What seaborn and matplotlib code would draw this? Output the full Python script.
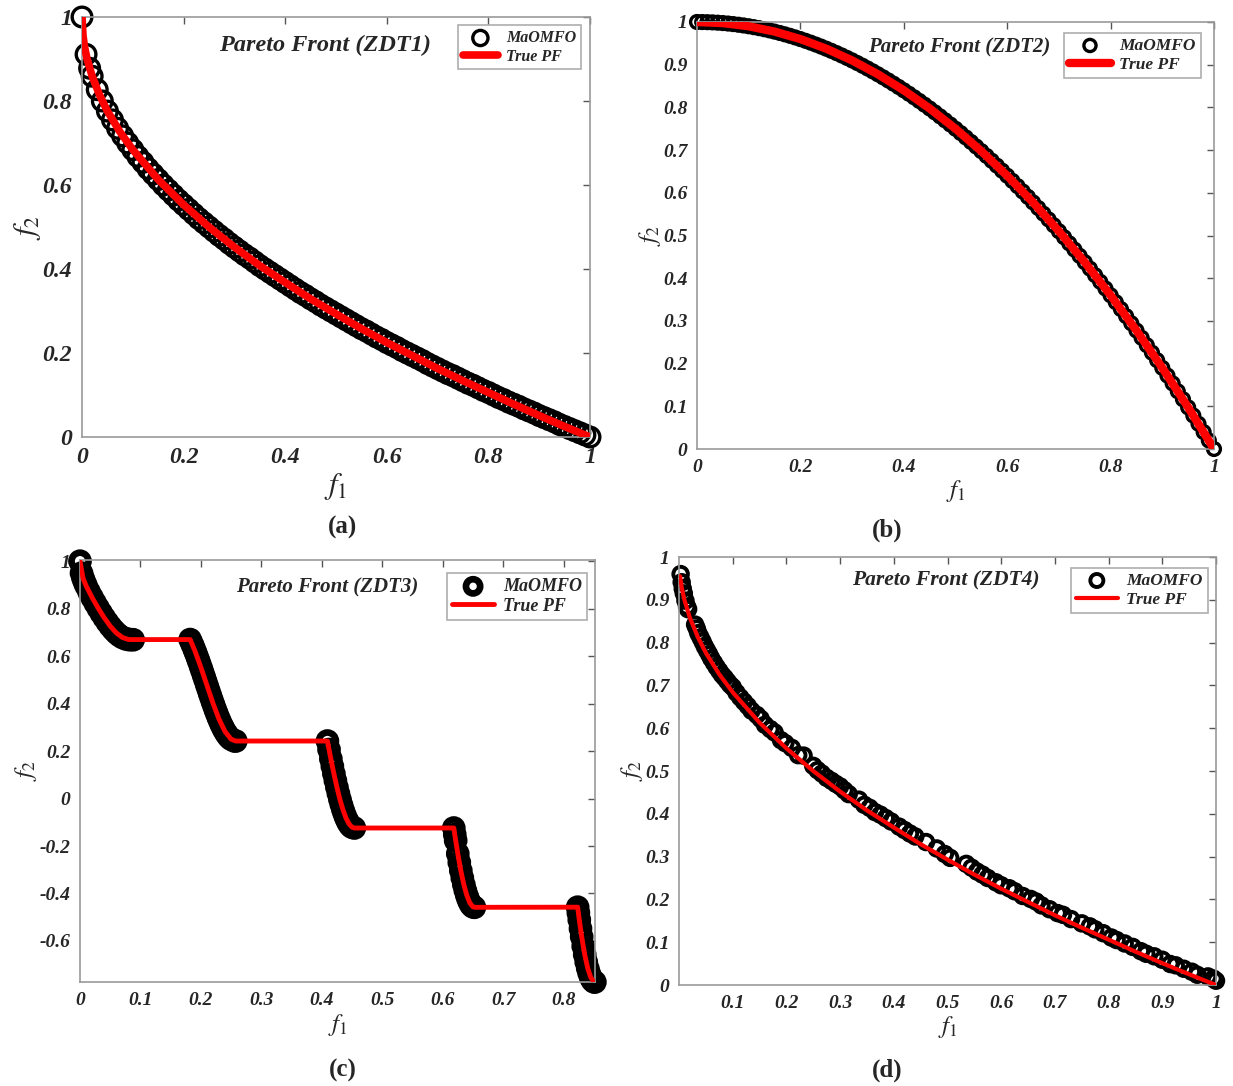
import matplotlib
matplotlib.use("Agg")
import matplotlib.pyplot as plt
import seaborn as sns
from matplotlib.ticker import FixedLocator, FixedFormatter

# ---------------- data ----------------
# ZDT1 (MaOMFO solutions)
zdt1_f1 = [0, 0.008, 0.015, 0.02, 0.03, 0.04, 0.05, 0.06, 0.07, 0.08, 0.09, 0.10, 0.11, 0.12, 0.13,
           0.14, 0.15, 0.16, 0.17, 0.18, 0.19, 0.20, 0.21, 0.22, 0.23, 0.24, 0.25, 0.26, 0.27, 0.28,
           0.29, 0.30, 0.31, 0.32, 0.33, 0.34, 0.35, 0.36, 0.37, 0.38, 0.39, 0.40, 0.41, 0.42, 0.43,
           0.44, 0.45, 0.46, 0.47, 0.48, 0.49, 0.50, 0.51, 0.52, 0.53, 0.54, 0.55, 0.56, 0.57, 0.58,
           0.59, 0.60, 0.61, 0.62, 0.63, 0.64, 0.65, 0.66, 0.67, 0.68, 0.69, 0.70, 0.71, 0.72, 0.73,
           0.74, 0.75, 0.76, 0.77, 0.78, 0.79, 0.80, 0.81, 0.82, 0.83, 0.84, 0.85, 0.86, 0.87, 0.88,
           0.89, 0.90, 0.91, 0.92, 0.93, 0.94, 0.95, 0.96, 0.97, 0.98, 0.99, 1.00]
zdt1_f2 = [1.0, 0.911, 0.878, 0.859, 0.827, 0.800, 0.776, 0.755, 0.735, 0.717, 0.700, 0.684, 0.668,
           0.654, 0.639, 0.626, 0.613, 0.600, 0.588, 0.576, 0.564, 0.553, 0.542, 0.531, 0.520, 0.510,
           0.500, 0.490, 0.480, 0.471, 0.461, 0.452, 0.443, 0.434, 0.426, 0.417, 0.408, 0.400, 0.392,
           0.384, 0.376, 0.368, 0.360, 0.352, 0.344, 0.337, 0.329, 0.322, 0.314, 0.307, 0.300, 0.293,
           0.286, 0.279, 0.272, 0.265, 0.258, 0.252, 0.245, 0.238, 0.232, 0.225, 0.219, 0.213, 0.206,
           0.200, 0.194, 0.188, 0.182, 0.175, 0.169, 0.163, 0.157, 0.151, 0.146, 0.140, 0.134, 0.128,
           0.123, 0.117, 0.111, 0.106, 0.100, 0.094, 0.089, 0.083, 0.078, 0.073, 0.067, 0.062, 0.057,
           0.051, 0.046, 0.041, 0.036, 0.030, 0.025, 0.020, 0.015, 0.010, 0.005, 0.000]
# ZDT1 (true Pareto front)
pf1_f1 = [0, 0.002, 0.005, 0.01, 0.02, 0.035, 0.05, 0.075, 0.1, 0.15, 0.2, 0.25, 0.3, 0.35, 0.4,
          0.45, 0.5, 0.55, 0.6, 0.65, 0.7, 0.75, 0.8, 0.85, 0.9, 0.95, 1.0]
pf1_f2 = [1.0, 0.955, 0.929, 0.900, 0.859, 0.813, 0.776, 0.726, 0.684, 0.613, 0.553, 0.500, 0.452,
          0.408, 0.368, 0.329, 0.293, 0.258, 0.225, 0.194, 0.163, 0.134, 0.106, 0.078, 0.051, 0.025, 0.0]

# ZDT2
zdt2_f1 = [0, 0.01, 0.02, 0.03, 0.04, 0.05, 0.06, 0.07, 0.08, 0.09, 0.10, 0.11, 0.12, 0.13, 0.14,
           0.15, 0.16, 0.17, 0.18, 0.19, 0.20, 0.21, 0.22, 0.23, 0.24, 0.25, 0.26, 0.27, 0.28, 0.29,
           0.30, 0.31, 0.32, 0.33, 0.34, 0.35, 0.36, 0.37, 0.38, 0.39, 0.40, 0.41, 0.42, 0.43, 0.44,
           0.45, 0.46, 0.47, 0.48, 0.49, 0.50, 0.51, 0.52, 0.53, 0.54, 0.55, 0.56, 0.57, 0.58, 0.59,
           0.60, 0.61, 0.62, 0.63, 0.64, 0.65, 0.66, 0.67, 0.68, 0.69, 0.70, 0.71, 0.72, 0.73, 0.74,
           0.75, 0.76, 0.77, 0.78, 0.79, 0.80, 0.81, 0.82, 0.83, 0.84, 0.85, 0.86, 0.87, 0.88, 0.89,
           0.90, 0.91, 0.92, 0.93, 0.94, 0.95, 0.96, 0.97, 0.98, 0.99, 1.00]
zdt2_f2 = [1.0, 0.9999, 0.9996, 0.9991, 0.9984, 0.9975, 0.9964, 0.9951, 0.9936, 0.9919, 0.99, 0.9879,
           0.9856, 0.9831, 0.9804, 0.9775, 0.9744, 0.9711, 0.9676, 0.9639, 0.96, 0.9559, 0.9516,
           0.9471, 0.9424, 0.9375, 0.9324, 0.9271, 0.9216, 0.9159, 0.91, 0.9039, 0.8976, 0.8911,
           0.8844, 0.8775, 0.8704, 0.8631, 0.8556, 0.8479, 0.84, 0.8319, 0.8236, 0.8151, 0.8064,
           0.7975, 0.7884, 0.7791, 0.7696, 0.7599, 0.75, 0.7399, 0.7296, 0.7191, 0.7084, 0.6975,
           0.6864, 0.6751, 0.6636, 0.6519, 0.64, 0.6279, 0.6156, 0.6031, 0.5904, 0.5775, 0.5644,
           0.5511, 0.5376, 0.5239, 0.51, 0.4959, 0.4816, 0.4671, 0.4524, 0.4375, 0.4224, 0.4071,
           0.3916, 0.3759, 0.36, 0.3439, 0.3276, 0.3111, 0.2944, 0.2775, 0.2604, 0.2431, 0.2256,
           0.2079, 0.19, 0.1719, 0.1536, 0.1351, 0.1164, 0.0975, 0.0784, 0.0591, 0.0396, 0.0199, 0.0]
pf2_f1 = [0, 0.05, 0.1, 0.15, 0.2, 0.25, 0.3, 0.35, 0.4, 0.45, 0.5, 0.55, 0.6, 0.65, 0.7, 0.75, 0.8,
          0.85, 0.9, 0.95, 1.0]
pf2_f2 = [1.0, 0.9975, 0.99, 0.9775, 0.96, 0.9375, 0.91, 0.8775, 0.84, 0.7975, 0.75, 0.6975, 0.64,
          0.5775, 0.51, 0.4375, 0.36, 0.2775, 0.19, 0.0975, 0.0]

# ZDT3
zdt3_f1 = [0, 0.0025, 0.005, 0.0075, 0.01, 0.015, 0.02, 0.025, 0.03, 0.035, 0.04, 0.045, 0.05, 0.055,
           0.06, 0.065, 0.07, 0.075, 0.08, 0.083, 0.088,
           0.1822, 0.185, 0.1875, 0.19, 0.1925, 0.195, 0.1975, 0.20, 0.2025, 0.205, 0.2075, 0.21,
           0.2125, 0.215, 0.2175, 0.22, 0.2225, 0.225, 0.2275, 0.23, 0.2325, 0.235, 0.2375, 0.24,
           0.2425, 0.245, 0.2475, 0.25, 0.255, 0.2578,
           0.4093, 0.412, 0.415, 0.4175, 0.42, 0.4225, 0.425, 0.4275, 0.43, 0.4325, 0.435, 0.4375,
           0.44, 0.4425, 0.445, 0.4475, 0.45, 0.4539,
           0.6184, 0.62, 0.6215, 0.625, 0.6275, 0.63, 0.6325, 0.635, 0.6375, 0.64, 0.6425, 0.645,
           0.6475, 0.65, 0.6525,
           0.8233, 0.8245, 0.826, 0.828, 0.83, 0.8325, 0.835, 0.8375, 0.84, 0.8425, 0.845, 0.8475,
           0.85, 0.8518]
zdt3_f2 = [1.0, 0.9498, 0.9285, 0.9117, 0.8969, 0.8707, 0.8468, 0.8242, 0.8025, 0.7817, 0.762, 0.7435,
           0.7264, 0.7112, 0.698, 0.6871, 0.6788, 0.6731, 0.6702, 0.6696, 0.6690,
           0.6698, 0.6539, 0.6388, 0.6228, 0.6062, 0.5889, 0.5711, 0.5528, 0.5341, 0.5151, 0.4961,
           0.4768, 0.4577, 0.4387, 0.42, 0.4017, 0.3838, 0.3666, 0.35, 0.3343, 0.3196, 0.3058,
           0.2933, 0.2819, 0.2718, 0.263, 0.2558, 0.25, 0.2431, 0.2423,
           0.2423, 0.2065, 0.1674, 0.1358, 0.105, 0.0756, 0.0476, 0.0211, -0.0036, -0.0263, -0.0471,
           -0.0656, -0.0817, -0.0955, -0.1066, -0.1151, -0.1208, -0.1242,
           -0.1242, -0.1518, -0.177, -0.2325, -0.2693, -0.3034, -0.3346, -0.3627, -0.3874, -0.4086,
           -0.4264, -0.4402, -0.4502, -0.4562, -0.4583,
           -0.4578, -0.4819, -0.511, -0.5479, -0.5825, -0.6222, -0.6578, -0.689, -0.7153, -0.7372,
           -0.7538, -0.7655, -0.772, -0.7733]
pf3_f1 = [0, 0.005, 0.01, 0.02, 0.03, 0.04, 0.05, 0.06, 0.07, 0.08, 0.083,
          0.1822, 0.19, 0.20, 0.21, 0.22, 0.23, 0.24, 0.25, 0.2578,
          0.4093, 0.415, 0.42, 0.425, 0.43, 0.435, 0.44, 0.445, 0.45, 0.4539,
          0.6184, 0.62, 0.625, 0.63, 0.635, 0.64, 0.645, 0.65, 0.6525,
          0.8233, 0.826, 0.83, 0.835, 0.84, 0.845, 0.85, 0.8518]
pf3_f2 = [1.0, 0.9285, 0.8969, 0.8468, 0.8025, 0.762, 0.7264, 0.698, 0.6788, 0.6702, 0.6696,
          0.6698, 0.6228, 0.5528, 0.4768, 0.4017, 0.3343, 0.2819, 0.25, 0.2423,
          0.2423, 0.1674, 0.105, 0.0476, -0.0036, -0.0471, -0.0817, -0.1066, -0.1208, -0.1242,
          -0.1242, -0.1518, -0.2325, -0.3034, -0.3627, -0.4086, -0.4402, -0.4562, -0.4583,
          -0.4578, -0.511, -0.5825, -0.6578, -0.7153, -0.7538, -0.772, -0.7733]

# ZDT4
zdt4_f1 = [0.003, 0.005, 0.007, 0.009, 0.012, 0.015, 0.017, 0.030, 0.033, 0.036, 0.040, 0.044, 0.048,
           0.052, 0.056, 0.060, 0.065, 0.070, 0.075, 0.080, 0.085, 0.090, 0.095, 0.100, 0.107, 0.114,
           0.121, 0.128, 0.135, 0.145, 0.152, 0.160, 0.170, 0.178, 0.190, 0.198, 0.210, 0.222, 0.232,
           0.250, 0.258, 0.266, 0.275, 0.284, 0.292, 0.300, 0.308, 0.316, 0.335, 0.345, 0.355, 0.365,
           0.375, 0.385, 0.395, 0.410, 0.420, 0.430, 0.440, 0.460, 0.480, 0.495, 0.505, 0.535, 0.545,
           0.555, 0.565, 0.575, 0.590, 0.600, 0.615, 0.625, 0.640, 0.655, 0.665, 0.675, 0.690, 0.705,
           0.715, 0.730, 0.750, 0.765, 0.775, 0.790, 0.805, 0.815, 0.830, 0.845, 0.860, 0.870, 0.885,
           0.900, 0.915, 0.925, 0.940, 0.955, 0.965, 0.985, 0.995, 1.000]
zdt4_f2 = [0.960, 0.941, 0.926, 0.915, 0.898, 0.884, 0.878, 0.842, 0.833, 0.822, 0.812, 0.802, 0.791,
           0.782, 0.773, 0.763, 0.753, 0.743, 0.734, 0.725, 0.718, 0.710, 0.702, 0.696, 0.683, 0.672,
           0.662, 0.652, 0.641, 0.631, 0.622, 0.608, 0.598, 0.590, 0.572, 0.565, 0.554, 0.537, 0.536,
           0.512, 0.502, 0.494, 0.484, 0.477, 0.470, 0.464, 0.455, 0.446, 0.433, 0.421, 0.414, 0.404,
           0.398, 0.390, 0.382, 0.370, 0.362, 0.354, 0.347, 0.334, 0.319, 0.306, 0.297, 0.283, 0.274,
           0.265, 0.258, 0.250, 0.240, 0.233, 0.226, 0.219, 0.208, 0.201, 0.195, 0.186, 0.177, 0.168,
           0.164, 0.154, 0.144, 0.137, 0.130, 0.121, 0.111, 0.105, 0.097, 0.089, 0.079, 0.073, 0.067,
           0.059, 0.049, 0.046, 0.038, 0.031, 0.024, 0.020, 0.015, 0.010]
pf4_f1 = [0.002, 0.005, 0.01, 0.02, 0.035, 0.05, 0.075, 0.1, 0.15, 0.2, 0.25, 0.3, 0.35, 0.4,
          0.45, 0.5, 0.55, 0.6, 0.65, 0.7, 0.75, 0.8, 0.85, 0.9, 0.95, 1.0]
pf4_f2 = [0.955, 0.929, 0.900, 0.859, 0.813, 0.776, 0.726, 0.684, 0.613, 0.553, 0.500, 0.452,
          0.408, 0.368, 0.329, 0.293, 0.258, 0.225, 0.194, 0.163, 0.134, 0.106, 0.078, 0.051, 0.025, 0.0]

titles = ["Pareto Front (ZDT1)", "Pareto Front (ZDT2)", "Pareto Front (ZDT3)", "Pareto Front (ZDT4)"]
captions = ["(a)", "(b)", "(c)", "(d)"]
series_names = ["MaOMFO", "True PF"]

xt_a = [0, 0.2, 0.4, 0.6, 0.8, 1]
xl_a = ["0", "0.2", "0.4", "0.6", "0.8", "1"]
yt_a = [0, 0.2, 0.4, 0.6, 0.8, 1]
yl_a = ["0", "0.2", "0.4", "0.6", "0.8", "1"]
xt_b = [0, 0.2, 0.4, 0.6, 0.8, 1]
xl_b = ["0", "0.2", "0.4", "0.6", "0.8", "1"]
yt_b = [0, 0.1, 0.2, 0.3, 0.4, 0.5, 0.6, 0.7, 0.8, 0.9, 1]
yl_b = ["0", "0.1", "0.2", "0.3", "0.4", "0.5", "0.6", "0.7", "0.8", "0.9", "1"]
xt_c = [0, 0.1, 0.2, 0.3, 0.4, 0.5, 0.6, 0.7, 0.8]
xl_c = ["0", "0.1", "0.2", "0.3", "0.4", "0.5", "0.6", "0.7", "0.8"]
yt_c = [-0.6, -0.4, -0.2, 0, 0.2, 0.4, 0.6, 0.8, 1]
yl_c = ["-0.6", "-0.4", "-0.2", "0", "0.2", "0.4", "0.6", "0.8", "1"]
xt_d = [0.1, 0.2, 0.3, 0.4, 0.5, 0.6, 0.7, 0.8, 0.9, 1]
xl_d = ["0.1", "0.2", "0.3", "0.4", "0.5", "0.6", "0.7", "0.8", "0.9", "1"]
yt_d = [0, 0.1, 0.2, 0.3, 0.4, 0.5, 0.6, 0.7, 0.8, 0.9, 1]
yl_d = ["0", "0.1", "0.2", "0.3", "0.4", "0.5", "0.6", "0.7", "0.8", "0.9", "1"]

# ---------------- style ----------------
sns.set_style("white")
plt.rcParams["font.family"] = ["Liberation Serif", "DejaVu Serif"]
plt.rcParams["mathtext.fontset"] = "stix"

W, H = 1233, 1086
fig = plt.figure(figsize=(W / 100, H / 100), dpi=100)

def frac(l, t, r, b):
    return [l / W, 1 - b / H, (r - l) / W, (b - t) / H]

panels = [
    dict(rect=frac(82, 17, 590, 437), x=zdt1_f1, y=zdt1_f2, px=pf1_f1, py=pf1_f2,
         xlim=(0, 1), ylim=(0, 1), xt=xt_a, xl=xl_a, yt=yt_a, yl=yl_a, tfs=17,
         ms=200, mlw=2.4, lw=5.5, title_pos=(0.478, 0.933), title_fs=17.5,
         leg_anchor=(0.982, 0.98), leg_fs=11.5, lab_fs=22, cap=(343, 527), lsz=0.6, hl=2.2),
    dict(rect=frac(697, 22, 1214, 449), x=zdt2_f1, y=zdt2_f2, px=pf2_f1, py=pf2_f2,
         xlim=(0, 1), ylim=(0, 1), xt=xt_b, xl=xl_b, yt=yt_b, yl=yl_b, tfs=14,
         ms=85, mlw=2.4, lw=6, title_pos=(0.507, 0.941), title_fs=15,
         leg_anchor=(0.975, 0.975), leg_fs=12.5, lab_fs=18, cap=(887, 530), lsz=0.9, hl=2.4),
    dict(rect=frac(80, 560, 595, 982), x=zdt3_f1, y=zdt3_f2, px=pf3_f1, py=pf3_f2,
         xlim=(0, 0.852), ylim=(-0.773, 1.005), xt=xt_c, xl=xl_c, yt=yt_c, yl=yl_c, tfs=14,
         ms=150, mlw=4.8, lw=3.5, title_pos=(0.48, 0.936), title_fs=15,
         leg_anchor=(0.985, 0.97), leg_fs=13, lab_fs=18, cap=(343, 1070), lsz=0.7, hl=2.3),
    dict(rect=frac(679, 557, 1216, 985), x=zdt4_f1, y=zdt4_f2, px=pf4_f1, py=pf4_f2,
         xlim=(0, 1), ylim=(0, 1), xt=xt_d, xl=xl_d, yt=yt_d, yl=yl_d, tfs=14,
         ms=110, mlw=2.8, lw=3, title_pos=(0.497, 0.946), title_fs=15.5,
         leg_anchor=(0.985, 0.975), leg_fs=12.5, lab_fs=18, cap=(887, 1070), lsz=0.8, hl=2.4),
]

for i, p in enumerate(panels):
    ax = fig.add_axes(p["rect"])
    sns.scatterplot(x=p["x"], y=p["y"], ax=ax, marker="o", s=p["ms"],
                    facecolors="none", edgecolor="black", linewidth=p["mlw"],
                    label=series_names[0], zorder=2, clip_on=False)
    sns.lineplot(x=p["px"], y=p["py"], ax=ax, sort=False, estimator=None,
                 color="red", linewidth=p["lw"], label=series_names[1], zorder=3)
    ax.set_xlim(*p["xlim"])
    ax.set_ylim(*p["ylim"])
    ax.xaxis.set_major_locator(FixedLocator(p["xt"]))
    ax.xaxis.set_major_formatter(FixedFormatter(p["xl"]))
    ax.yaxis.set_major_locator(FixedLocator(p["yt"]))
    ax.yaxis.set_major_formatter(FixedFormatter(p["yl"]))
    ax.tick_params(direction="in", length=5, width=1, color="#555555",
                   top=True, right=True, labelsize=p["tfs"], pad=7)
    for lab in ax.get_xticklabels() + ax.get_yticklabels():
        lab.set_fontweight("bold")
        lab.set_fontstyle("italic")
    for sp in ax.spines.values():
        sp.set_color("#9a9a9a")
        sp.set_linewidth(1.2)
    ax.set_xlabel(r"$f_1$", fontsize=p["lab_fs"], labelpad=2)
    ax.set_ylabel(r"$f_2$", fontsize=p["lab_fs"], labelpad=0)
    ax.text(p["title_pos"][0], p["title_pos"][1], titles[i], transform=ax.transAxes,
            ha="center", va="center", fontsize=p["title_fs"], fontweight="bold", fontstyle="italic")
    leg = ax.legend(loc="upper right", bbox_to_anchor=p["leg_anchor"], frameon=True,
                    fancybox=False, borderaxespad=0, handlelength=p["hl"], handletextpad=0.5,
                    borderpad=0.3, labelspacing=0.15,
                    prop=dict(family="Liberation Serif", weight="bold", style="italic", size=p["leg_fs"]))
    leg.get_frame().set_edgecolor("#9a9a9a")
    leg.get_frame().set_linewidth(1.2)
    for t in leg.legend_handles:
        try:
            t.set_sizes([p["ms"] * p["lsz"]])
        except AttributeError:
            pass
    fig.text(p["cap"][0] / W, 1 - p["cap"][1] / H, captions[i], ha="center", va="center",
             fontsize=18, fontweight="bold")

fig.savefig("out.png", dpi=100, facecolor="white")
